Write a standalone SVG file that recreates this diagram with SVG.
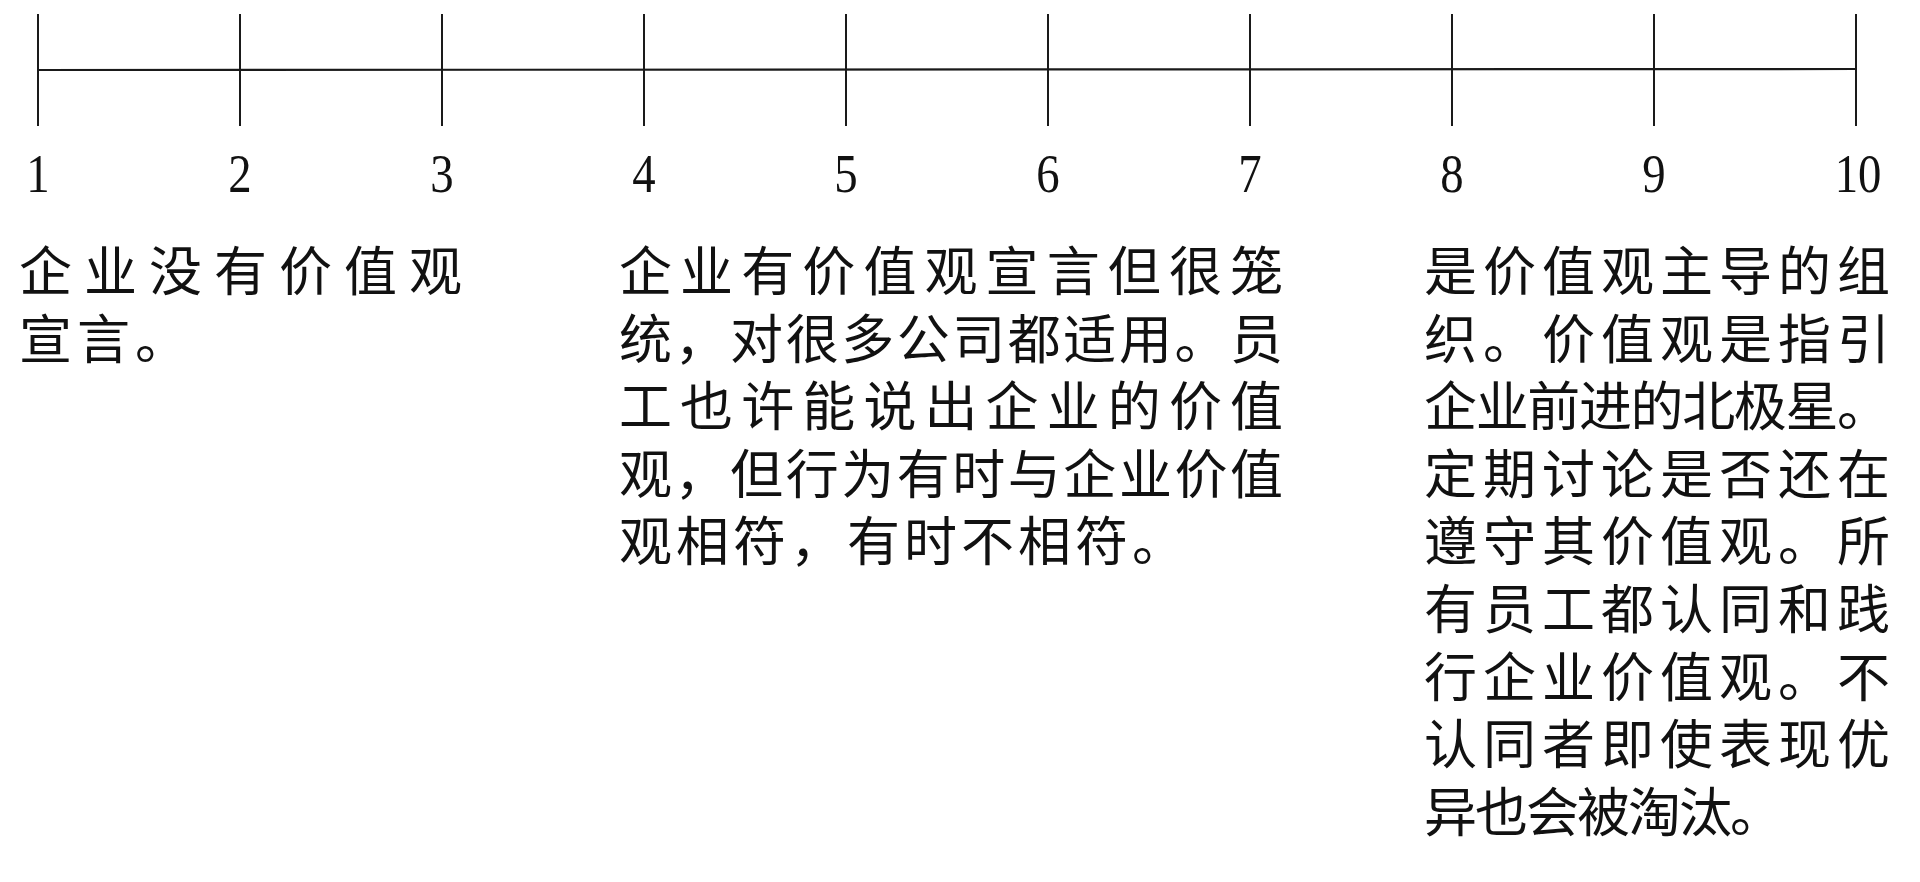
<svg xmlns="http://www.w3.org/2000/svg" width="1920" height="882" viewBox="0 0 1920 882">
<style>
.axis{stroke:#1a1a1a;stroke-width:2.2;fill:none}
.tick{stroke:#1a1a1a;stroke-width:2;fill:none}
.num{font-family:"Liberation Serif","Times New Roman",serif;font-size:55px;fill:#111;text-anchor:middle}
.cn{font-family:"Noto Sans CJK SC","Noto Sans",sans-serif;font-size:53px;fill:#111}
</style>
<rect width="1920" height="882" fill="#ffffff"/>
<g id="connectors">
<line class="axis" x1="38" y1="70" x2="1856" y2="69"/>
<g id="ticks">
<line class="tick" x1="38" y1="14" x2="38" y2="126"/>
<line class="tick" x1="240" y1="14" x2="240" y2="126"/>
<line class="tick" x1="442" y1="14" x2="442" y2="126"/>
<line class="tick" x1="644" y1="14" x2="644" y2="126"/>
<line class="tick" x1="846" y1="14" x2="846" y2="126"/>
<line class="tick" x1="1048" y1="14" x2="1048" y2="126"/>
<line class="tick" x1="1250" y1="14" x2="1250" y2="126"/>
<line class="tick" x1="1452" y1="14" x2="1452" y2="126"/>
<line class="tick" x1="1654" y1="14" x2="1654" y2="126"/>
<line class="tick" x1="1856" y1="14" x2="1856" y2="126"/>
</g>
</g>
<g id="scale-labels">
<text class="num" transform="translate(38,192) scale(0.85,1)">1</text>
<text class="num" transform="translate(240,192) scale(0.85,1)">2</text>
<text class="num" transform="translate(442,192) scale(0.85,1)">3</text>
<text class="num" transform="translate(644,192) scale(0.85,1)">4</text>
<text class="num" transform="translate(846,192) scale(0.85,1)">5</text>
<text class="num" transform="translate(1048,192) scale(0.85,1)">6</text>
<text class="num" transform="translate(1250,192) scale(0.85,1)">7</text>
<text class="num" transform="translate(1452,192) scale(0.85,1)">8</text>
<text class="num" transform="translate(1654,192) scale(0.85,1)">9</text>
<text class="num" transform="translate(1858,192) scale(0.85,1)">10</text>
</g>
<g id="level-1">
<text class="cn" x="19" y="291" textLength="443" lengthAdjust="spacing">企业没有价值观</text>
<text class="cn" x="19" y="358.6" letter-spacing="5">宣言。</text>
</g>
<g id="level-5">
<text class="cn" x="619" y="291" textLength="664" lengthAdjust="spacing">企业有价值观宣言但很笼</text>
<text class="cn" x="619" y="358.6" textLength="664" lengthAdjust="spacing">统，对很多公司都适用。员</text>
<text class="cn" x="619" y="426.2" textLength="664" lengthAdjust="spacing">工也许能说出企业的价值</text>
<text class="cn" x="619" y="493.8" textLength="664" lengthAdjust="spacing">观，但行为有时与企业价值</text>
<text class="cn" x="619" y="561.4" letter-spacing="4">观相符，有时不相符。</text>
</g>
<g id="level-10">
<text class="cn" x="1424" y="291" textLength="466" lengthAdjust="spacing">是价值观主导的组</text>
<text class="cn" x="1424" y="358.6" textLength="466" lengthAdjust="spacing">织。价值观是指引</text>
<text class="cn" x="1424" y="426.2" textLength="466" lengthAdjust="spacing">企业前进的北极星。</text>
<text class="cn" x="1424" y="493.8" textLength="466" lengthAdjust="spacing">定期讨论是否还在</text>
<text class="cn" x="1424" y="561.4" textLength="466" lengthAdjust="spacing">遵守其价值观。所</text>
<text class="cn" x="1424" y="629" textLength="466" lengthAdjust="spacing">有员工都认同和践</text>
<text class="cn" x="1424" y="696.6" textLength="466" lengthAdjust="spacing">行企业价值观。不</text>
<text class="cn" x="1424" y="764.2" textLength="466" lengthAdjust="spacing">认同者即使表现优</text>
<text class="cn" x="1424" y="831.8" letter-spacing="-2">异也会被淘汰。</text>
</g>
</svg>
